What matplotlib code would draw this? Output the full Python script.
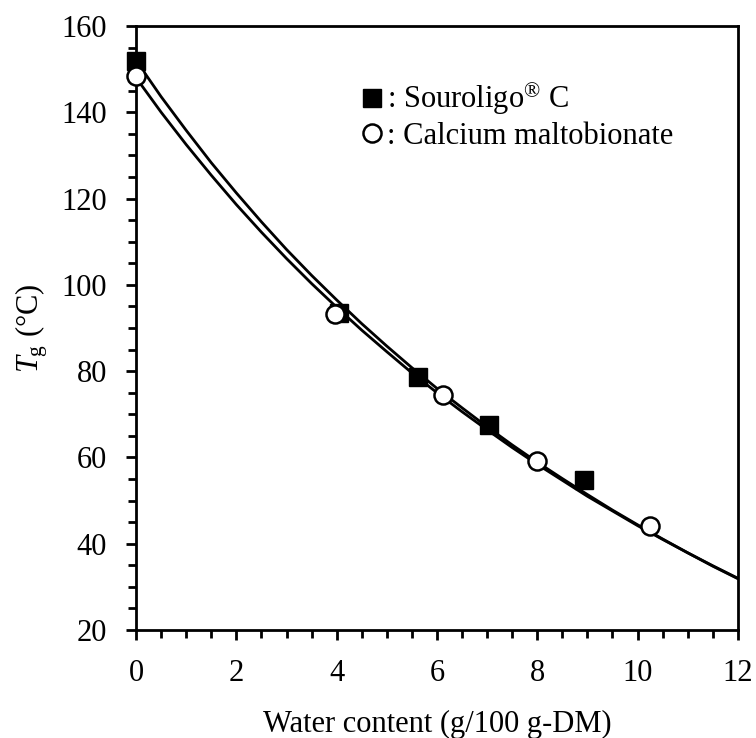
import matplotlib
matplotlib.use("Agg")
import matplotlib.pyplot as plt
from matplotlib.ticker import MultipleLocator
from matplotlib.lines import Line2D

plt.rcParams['font.family'] = ['Liberation Serif', 'DejaVu Serif']
plt.rcParams['mathtext.fontset'] = 'custom'
plt.rcParams['mathtext.rm'] = 'Liberation Serif'
plt.rcParams['mathtext.it'] = 'Liberation Serif:italic'

# Measured points
sour_x = [0.0, 4.04, 5.63, 7.03, 8.94]
sour_y = [151.9, 93.4, 78.6, 67.6, 54.8]
calc_x = [0.0, 3.97, 6.13, 8.0, 10.24]
calc_y = [148.3, 93.2, 74.5, 59.1, 44.2]

# Fitted curves
curve_x = [0, 0.5, 1, 1.5, 2, 2.5, 3, 3.5, 4, 4.5, 5, 5.5, 6, 6.5, 7, 7.5, 8,
           8.5, 9, 9.5, 10, 10.5, 11, 11.5, 12]
sour_curve = [152.0, 143.6, 135.8, 128.3, 121.3, 114.6, 108.2, 102.2, 96.5,
              91.0, 85.8, 80.8, 76.0, 71.5, 67.1, 62.9, 58.9, 55.1, 51.4,
              47.8, 44.4, 41.1, 37.9, 34.8, 31.9]
calc_curve = [148.0, 140.0, 132.5, 125.4, 118.6, 112.2, 106.1, 100.3, 94.8,
              89.5, 84.5, 79.6, 75.0, 70.6, 66.4, 62.3, 58.4, 54.7, 51.0,
              47.6, 44.2, 41.0, 37.9, 34.9, 32.0]

FS = 22

fig = plt.figure(figsize=(7.56, 7.38), dpi=100)
ax = fig.add_axes([0.180, 0.1463, 0.796, 0.8185])

ax.plot(curve_x, sour_curve, color='black', lw=2.0, zorder=2)
ax.plot(curve_x, calc_curve, color='black', lw=2.0, zorder=2)
ax.plot(sour_x, sour_y, linestyle='none', marker='s', markersize=12.5,
        markerfacecolor='black', markeredgecolor='black', zorder=3, clip_on=False)
ax.plot(calc_x, calc_y, linestyle='none', marker='o', markersize=13,
        markerfacecolor='white', markeredgecolor='black', markeredgewidth=1.8,
        zorder=4, clip_on=False)

ax.set_xlim(0, 12)
ax.set_ylim(20, 160)
ax.xaxis.set_major_locator(MultipleLocator(2))
ax.xaxis.set_minor_locator(MultipleLocator(0.5))
ax.yaxis.set_major_locator(MultipleLocator(20))
ax.yaxis.set_minor_locator(MultipleLocator(5))
ax.tick_params(which='both', direction='out', width=2, labelsize=FS,
               top=False, right=False)
ax.tick_params(which='major', length=7)
ax.tick_params(which='minor', length=6)
ax.tick_params(axis='x', which='major', pad=14)
ax.tick_params(axis='y', which='major', pad=14)
for s in ax.spines.values():
    s.set_linewidth(2)

ax.set_xlabel('Water content (g/100 g-DM)', fontsize=FS, labelpad=16)
ax.set_ylabel(r'$T_{\mathrm{g}}$ (°C)', fontsize=FS, labelpad=8)

handles = [
    Line2D([], [], linestyle='none', marker='s', markersize=12.5,
           markerfacecolor='black', markeredgecolor='black'),
    Line2D([], [], linestyle='none', marker='o', markersize=13,
           markerfacecolor='white', markeredgecolor='black', markeredgewidth=1.8),
]
labels = [r': Souroligo$^{\mathrm{®}}$ C', ': Calcium maltobionate']
ax.legend(handles, labels, loc='upper left', bbox_to_anchor=(0.346, 0.93),
          frameon=False, fontsize=FS, handletextpad=0.0, handlelength=1.0,
          labelspacing=0.15, borderaxespad=0)

fig.savefig('out.png', dpi=100)
